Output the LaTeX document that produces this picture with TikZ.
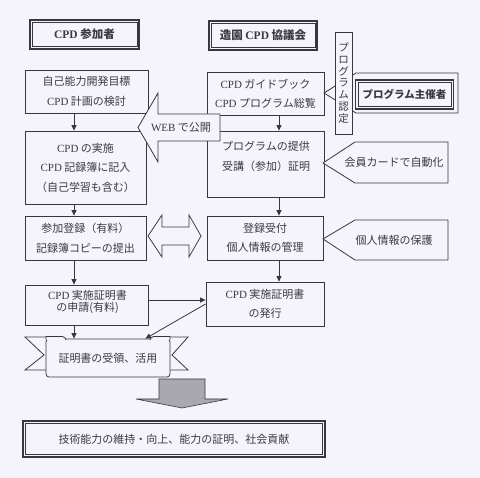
\documentclass[tikz,border=0pt]{standalone}
\usepackage{fontspec}
\setmainfont{Noto Sans CJK JP}
\newfontfamily\lat{Liberation Serif}
\usetikzlibrary{arrows.meta,calc}
\definecolor{bg}{RGB}{245,244,250}
\definecolor{ink}{RGB}{55,55,62}
\definecolor{txt}{RGB}{58,58,66}
\definecolor{gar}{RGB}{168,168,174}
\newcommand\cpd{{\lat CPD}}
\begin{document}
\begin{tikzpicture}[x=1pt,y=-1pt,
  every node/.style={text=txt, font=\fontsize{11}{19.5}\selectfont},
  box/.style={draw=ink, line width=0.8pt, fill=bg, inner sep=0pt, align=center},
  hdr/.style={draw=ink, line width=1.5pt, fill=bg, inner sep=0pt, align=center, font=\fontsize{11.5}{13}\selectfont\bfseries},
  lbl/.style={inner sep=0pt, align=center},
  arr/.style={draw=ink, line width=0.8pt, -{Triangle[length=5.5pt,width=5pt]}},
  shp/.style={draw=ink, line width=0.8pt, fill=bg, line join=miter},
  inner/.style={draw=ink, line width=0.5pt},
]
\path[use as bounding box, fill=bg] (0,0) rectangle (480,478);

% headers
\node[hdr, minimum width=109, minimum height=29] (h1) at (84.5,34.5) {\cpd\ 参加者};
\draw[inner] ([shift={(3,3)}]h1.north west) rectangle ([shift={(-3,-3)}]h1.south east);
\node[hdr, minimum width=108, minimum height=29] (h2) at (263,35.5) {造園 \cpd\ 協議会};
\draw[inner] ([shift={(3,3)}]h2.north west) rectangle ([shift={(-3,-3)}]h2.south east);

% left column
\node[box, minimum width=123, minimum height=43] (L1) at (86.5,91.5) {自己能力開発目標\\\cpd\ 計画の検討};
\node[box, minimum width=121, minimum height=73] (L2) at (85.5,167.5) {\cpd\ の実施\\\cpd\ 記録簿に記入\\（自己学習も含む）};
\node[box, minimum width=121, minimum height=44] (L3) at (85.5,238) {参加登録（有料）\\記録簿コピーの提出};
\node[box, minimum width=123, minimum height=40] (L4) at (86.5,305) {};
\node[lbl, font=\fontsize{11}{12}\selectfont] (L4t) at (87.5,302) {\cpd\ 実施証明書\\の申請(有料)};

% right column
\node[box, minimum width=117, minimum height=43] (R1) at (265.5,93.5) {\cpd\ ガイドブック\\\cpd\ プログラム総覧};
\node[box, minimum width=117, minimum height=66] (R2) at (265.5,164) {};
\node[lbl] (R2t) at (266,156.5) {プログラムの提供\\受講（参加）証明};
\node[box, minimum width=116, minimum height=44] (R3) at (265,238) {登録受付\\個人情報の管理};
\node[box, minimum width=118, minimum height=44] (R4) at (265,304) {\cpd\ 実施証明書\\の発行};

% WEB arrow
\draw[shp] (138,127.5) -- (158,93) -- (158,114) -- (220,114) -- (220,141) -- (158,141) -- (158,162) -- cycle;
\node[lbl] (web) at (181,127.5) {{\lat WEB} で公開};

% double arrow
\draw[shp] (148,236) -- (162,215) -- (162,227) -- (189,227) -- (189,215) -- (201,236) -- (189,257) -- (189,245) -- (162,245) -- (162,257) -- cycle;

% program organizer callout
\draw[shp] (324,93) -- (356,73) -- (458,73) -- (458,113) -- (356,113) -- cycle;
\node[box, minimum width=17, minimum height=102, font=\fontsize{10.5}{11.8}\selectfont] (nin) at (343.5,83) {プ\\ロ\\グ\\ラ\\ム\\認\\定};
\node[box, line width=1.5pt, minimum width=98, minimum height=29, font=\fontsize{10.5}{12}\selectfont\bfseries] (org) at (404.5,94.5) {プログラム主催者};
\draw[inner] ([shift={(3,3)}]org.north west) rectangle ([shift={(-3,-3)}]org.south east);

% other callouts
\draw[shp] (323,163) -- (355,142) -- (448,142) -- (448,183) -- (355,183) -- cycle;
\node[lbl] (kaiin) at (394,162.5) {会員カードで自動化};
\draw[shp] (323,239) -- (355,220) -- (448,220) -- (448,260) -- (355,260) -- cycle;
\node[lbl] (hogo) at (394,240) {個人情報の保護};

% ribbon
\draw[shp] (46,337) -- (25,337) -- (44,355) -- (25,370) -- (46,370);
\draw[shp] (170,337) -- (188,337) -- (172,355) -- (188,370) -- (170,370);
\node[draw=ink, line width=0.8pt, fill=bg, rounded corners=3pt, inner sep=0pt, minimum width=124, minimum height=38] (rib) at (108,358) {証明書の受領、活用};
\draw[ink, line width=0.8pt, fill=bg] (46,340) -- (46,336.5) -- (62,336.5) to[out=0,in=90] (66,340);
\draw[ink, line width=0.8pt, fill=bg] (170,340) -- (170,336.5) -- (154,336.5) to[out=180,in=90] (150,340);

% gray arrow
\draw[draw=ink, line width=0.6pt, fill=gar, line join=miter] (159,379) -- (205,379) -- (205,399) -- (228,399) -- (182,408) -- (136,399) -- (159,399) -- cycle;

% goal box
\node[box, line width=1.4pt, minimum width=302, minimum height=36] (goal) at (174,439) {技術能力の維持・向上、能力の証明、社会貢献};
\draw[inner] ([shift={(3,3)}]goal.north west) rectangle ([shift={(-3,-3)}]goal.south east);

% connectors
\coordinate (cl) at (74,0);
\coordinate (cr) at (279,0);
\draw[arr] (L1.south -| cl) -- (L2.north -| cl);
\draw[arr] (L2.south -| cl) -- (L3.north -| cl);
\draw[arr] (L3.south -| cl) -- (L4.north -| cl);
\draw[arr] (L4.south -| cl) -- (rib.north -| cl);
\draw[arr] (R1.south -| cr) -- (R2.north -| cr);
\draw[arr] (R2.south -| cr) -- (R3.north -| cr);
\draw[arr] (R3.south -| cr) -- (R4.north -| cr);
\coordinate (a1) at ([yshift=5pt]L4.east);
\draw[arr] (a1) -- (a1 -| R4.west);
\draw[arr] (R4.west) -- ([xshift=-25pt]rib.north east);
\end{tikzpicture}
\end{document}
